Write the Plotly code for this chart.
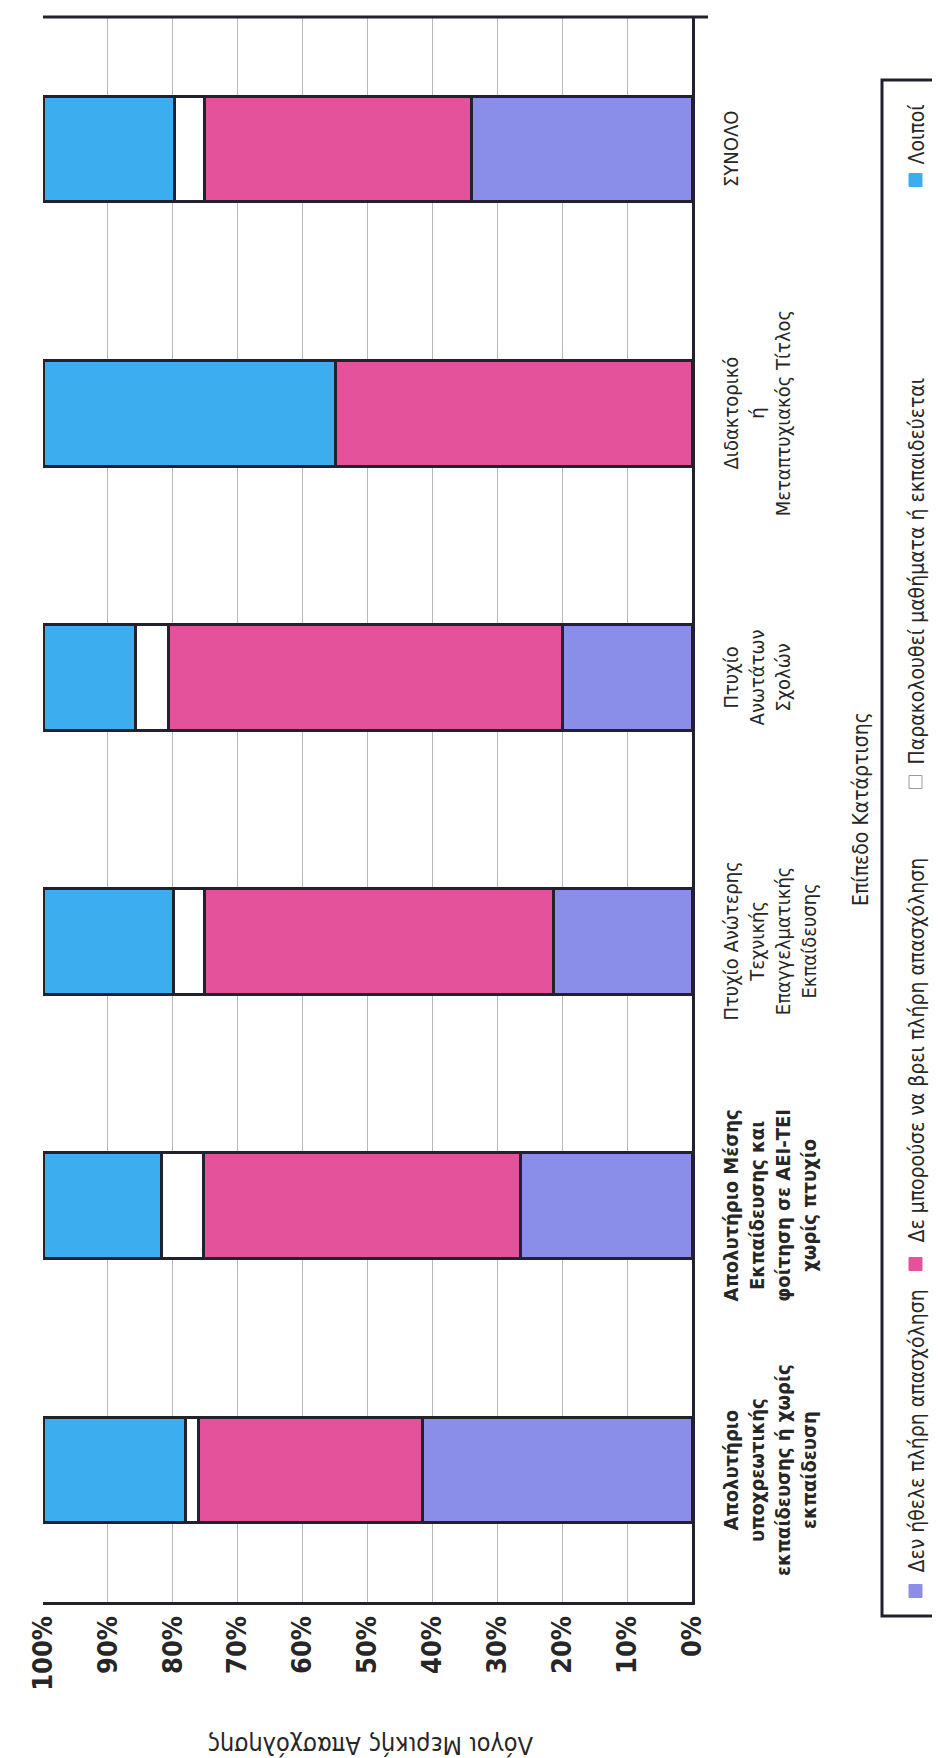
import plotly.graph_objects as go

# ---------------- data ----------------
categories = ["Απολυτήριο υποχρεωτικής", "Απολυτήριο Μέσης", "Πτυχίο ΤΕΙ",
              "Πτυχίο Ανωτάτων", "Διδακτορικό", "ΣΥΝΟΛΟ"]
category_labels = [
    "Απολυτήριο<br>υποχρεωτικής<br>εκπαίδευσης ή χωρίς<br>εκπαίδευση",
    "Απολυτήριο Μέσης<br>Εκπαίδευσης και<br>φοίτηση σε ΑΕΙ-ΤΕΙ<br>χωρίς πτυχίο",
    "Πτυχίο Ανώτερης<br>Τεχνικής<br>Επαγγελματικής<br>Εκπαίδευσης",
    "Πτυχίο<br>Ανωτάτων<br>Σχολών",
    "Διδακτορικό<br>ή<br>Μεταπτυχιακός Τίτλος",
    "ΣΥΝΟΛΟ",
]
category_bold = [True, True, False, False, False, False]
series_names = ["Δεν ήθελε πλήρη απασχόληση",
                "Δε μπορούσε να βρει πλήρη απασχόληση",
                "Παρακολουθεί μαθήματα ή εκπαιδεύεται",
                "Λοιποί"]
did_not_want = [41.6, 26.5, 21.3, 19.9, 0.0, 34.0]
could_not_find = [34.5, 48.7, 53.8, 60.7, 54.9, 41.1]
in_education = [2.0, 6.5, 4.8, 5.2, 0.0, 4.6]
others = [21.9, 18.3, 20.1, 14.2, 45.1, 20.3]
series_values = [did_not_want, could_not_find, in_education, others]
series_colors = ["#8a8ee8", "#e5529c", "#ffffff", "#3caef0"]

tick_vals = [0, 10, 20, 30, 40, 50, 60, 70, 80, 90, 100]
tick_text = ["0%", "10%", "20%", "30%", "40%", "50%", "60%", "70%", "80%", "90%", "100%"]

x_title = "Λόγοι Μερικής Απασχόλησης"
y_title = "Επίπεδο Κατάρτισης"

# ---------------- layout geometry (pixels) ----------------
W, H = 940, 1758
L, R, T, B = 35, 684, 9, 1594


def px(x):
    return (x - L) / (R - L)


def py(y):
    return (B - y) / (B - T)


NARROW = "Liberation Sans Narrow, Arial Narrow, DejaVu Sans Condensed, Roboto Condensed, sans-serif"
DARK = "#22222e"
TXT = "#262626"

fig = go.Figure()
for name, vals, col in zip(series_names, series_values, series_colors):
    fig.add_trace(go.Bar(
        y=categories, x=vals, name=name, orientation="h",
        marker=dict(color=col, line=dict(color=DARK, width=3)),
        showlegend=False,
    ))

annotations = []
# category labels (rotated)
for cat, lab, bold in zip(categories, category_labels, category_bold):
    annotations.append(dict(
        x=px(709), y=cat, xref="paper", yref="y", text=lab, showarrow=False,
        textangle=-90, xanchor="left", yanchor="middle", align="center",
        font=dict(family=NARROW, size=20, color=TXT,
                  weight="bold" if bold else "normal")))

# axis titles
annotations.append(dict(
    x=px(853), y=py(801), xref="paper", yref="paper", text=y_title,
    showarrow=False, textangle=-90, xanchor="center", yanchor="middle",
    font=dict(family=NARROW, size=21, color=TXT)))
annotations.append(dict(
    x=px(362), y=py(1738), xref="paper", yref="paper", text=x_title,
    showarrow=False, textangle=180, xanchor="center", yanchor="middle",
    font=dict(family=NARROW, size=25, color=TXT)))

shapes = []
# top frame line extending slightly past the plot
shapes.append(dict(type="line", xref="paper", yref="paper",
                   x0=0, x1=px(700), y0=1, y1=1, line=dict(color=DARK, width=3)))
# legend box
shapes.append(dict(type="rect", xref="paper", yref="paper",
                   x0=px(874), x1=px(960), y0=py(1608), y1=py(72),
                   line=dict(color=DARK, width=3), fillcolor="rgba(0,0,0,0)"))

legend_marker_y = [1583, 1256, 774, 172]
legend_text_y = [1566, 1236, 758, 158]
for name, col, my, ty in zip(series_names, series_colors, legend_marker_y, legend_text_y):
    shapes.append(dict(type="rect", xref="paper", yref="paper",
                       x0=px(901), x1=px(914), y0=py(my + 6.5), y1=py(my - 6.5),
                       line=dict(color="#9a9a9a" if col == "#ffffff" else col, width=1),
                       fillcolor=col))
    annotations.append(dict(
        x=px(908), y=py(ty), xref="paper", yref="paper", text=name,
        showarrow=False, textangle=-90, xanchor="center", yanchor="bottom",
        font=dict(family=NARROW, size=21, color=TXT)))

fig.update_layout(
    width=W, height=H,
    margin=dict(l=L, r=W - R, t=T, b=H - B),
    paper_bgcolor="white", plot_bgcolor="white",
    barmode="stack", bargap=0.6,
    xaxis=dict(range=[100, 0], tickvals=tick_vals, ticktext=tick_text,
               tickangle=-90, showgrid=True, gridcolor="#b8b8b8", gridwidth=1,
               showline=True, linecolor=DARK, linewidth=3, mirror=False,
               ticks="", zeroline=False,
               tickfont=dict(family=NARROW, size=27, color=TXT, weight="bold")),
    yaxis=dict(type="category", side="right", showline=True, linecolor=DARK,
               linewidth=3, showticklabels=False, showgrid=False, ticks="",
               zeroline=False),
    annotations=annotations, shapes=shapes,
)

fig.write_html("out.html")
